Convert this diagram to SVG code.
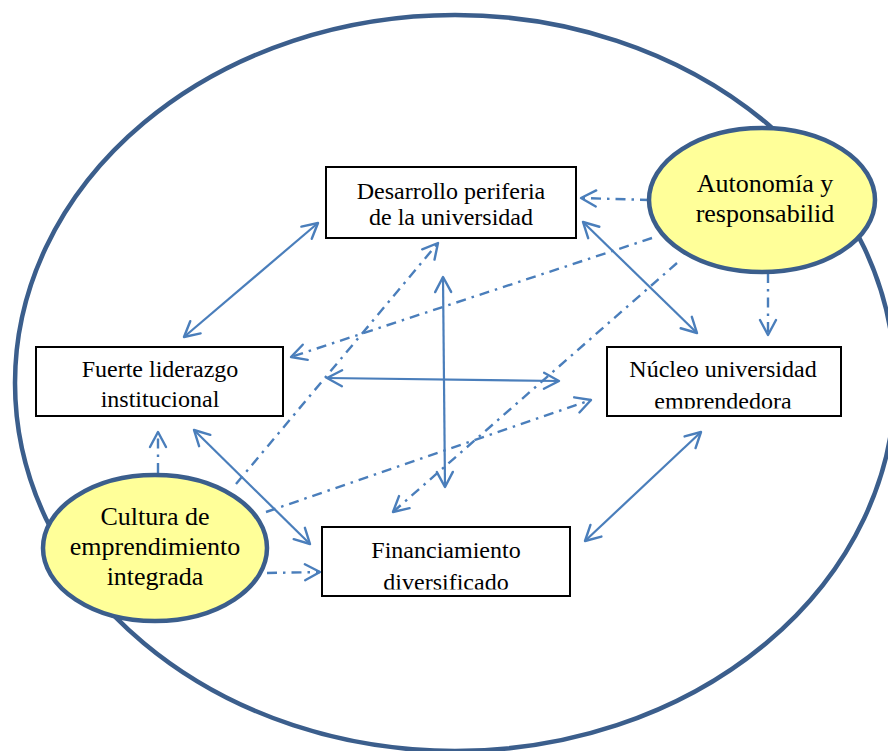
<svg xmlns="http://www.w3.org/2000/svg" width="888" height="751" viewBox="0 0 888 751">
  <style>
    .frame { fill: none; stroke: #3B5E8C; stroke-width: 4.5; }
    .oval { fill: #FFFF99; stroke: #3B5E8C; stroke-width: 4.5; }
    .box { fill: #FFFFFF; stroke: #000000; stroke-width: 2; }
    .lbl { font-family: "Liberation Serif", "Times New Roman", serif; font-size: 24px; fill: #000000; text-anchor: middle; }
    .big { font-size: 26px; }
    .solid { fill: none; stroke: #4A7EBB; stroke-width: 2.2; marker-start: url(#head); marker-end: url(#head); }
    .dashdot { fill: none; stroke: #4A7EBB; stroke-width: 2.4; stroke-dasharray: 10 6 2.5 6; marker-end: url(#head); }
  </style>
  <defs>
    <marker id="head" markerUnits="userSpaceOnUse" markerWidth="24" markerHeight="24" viewBox="-20 -12 24 24" refX="0" refY="0" orient="auto-start-reverse">
      <path d="M-15,-8 L0,0 L-15,8" fill="none" stroke="#4A7EBB" stroke-width="2.4" stroke-dasharray="none" stroke-linejoin="round" stroke-linecap="round"/>
    </marker>
    <clipPath id="clipNucleo"><rect x="600" y="340" width="250" height="68.5"/></clipPath>
    <clipPath id="clipFin"><rect x="315" y="520" width="265" height="69.5"/></clipPath>
  </defs>

  <!-- outer boundary -->
  <ellipse class="frame" cx="455" cy="383" rx="440" ry="368"/>

  <!-- connectors -->
  <g id="connectors">
    <path class="solid" d="M184,337 L318,223"/>
    <path class="solid" d="M583,222 L697,333"/>
    <path class="solid" d="M443,277 L445,487"/>
    <path class="solid" d="M327,378 L559,381"/>
    <path class="solid" d="M194,430 L310,544"/>
    <path class="solid" d="M701,432 L585,541"/>

    <path class="dashdot" d="M650,200 L581,198"/>
    <path class="dashdot" d="M652,238 L291,357"/>
    <path class="dashdot" d="M677,263 L393,512"/>
    <path class="dashdot" d="M768,273 L768,335"/>
    <path class="dashdot" d="M158,473 L158,432"/>
    <path class="dashdot" d="M236,484 L438,243"/>
    <path class="dashdot" d="M266,512 L591,400"/>
    <path class="dashdot" d="M267,573 L320,572"/>
  </g>

  <g id="desarrollo">
    <rect class="box" x="326" y="167" width="250" height="71"/>
    <text class="lbl" x="451" y="199">Desarrollo periferia</text>
    <text class="lbl" x="451" y="225">de la universidad</text>
  </g>

  <g id="liderazgo">
    <rect class="box" x="36" y="347" width="247" height="69"/>
    <text class="lbl" x="160" y="377">Fuerte liderazgo</text>
    <text class="lbl" x="160" y="407">institucional</text>
  </g>

  <g id="nucleo">
    <rect class="box" x="607" y="347" width="234" height="69"/>
    <g clip-path="url(#clipNucleo)">
      <text class="lbl" x="723" y="377">Núcleo universidad</text>
      <text class="lbl" x="723" y="408.5">emprendedora</text>
    </g>
  </g>

  <g id="financiamiento">
    <rect class="box" x="322" y="527" width="248" height="69"/>
    <g clip-path="url(#clipFin)">
      <text class="lbl" x="446" y="558">Financiamiento</text>
      <text class="lbl" x="446" y="590">diversificado</text>
    </g>
  </g>

  <g id="autonomia">
    <ellipse class="oval" cx="762" cy="200" rx="113" ry="72"/>
    <text class="lbl big" x="765" y="192">Autonomía y</text>
    <text class="lbl big" x="765" y="222">responsabilid</text>
  </g>

  <g id="cultura">
    <ellipse class="oval" cx="155" cy="548" rx="112" ry="73"/>
    <text class="lbl big" x="155" y="525">Cultura de</text>
    <text class="lbl big" x="155" y="555">emprendimiento</text>
    <text class="lbl big" x="155" y="585">integrada</text>
  </g>
</svg>
